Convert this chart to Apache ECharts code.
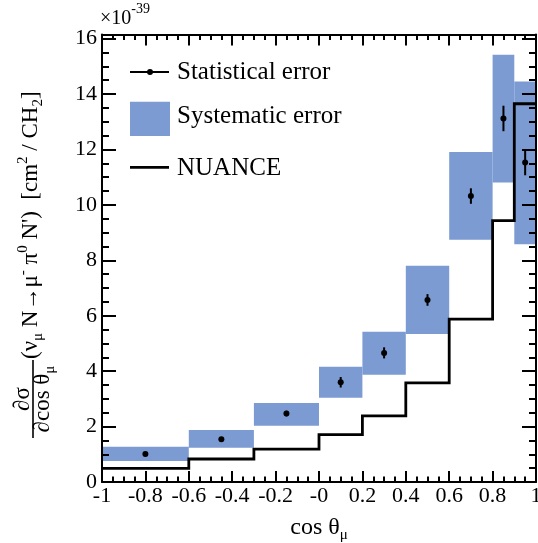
<!DOCTYPE html>
<html>
<head>
<meta charset="utf-8">
<script src="https://cdn.jsdelivr.net/npm/echarts@6/dist/echarts.min.js"></script>
<style>
  html, body { margin: 0; padding: 0; background: #ffffff; }
  #chart { width: 538px; height: 543px; }
</style>
</head>
<body>
<div id="chart"></div>
<script>
// Bin edges and centres in cos(theta_mu)
const binLow    = [-1, -0.6, -0.3, 0, 0.2, 0.4, 0.6, 0.8, 0.9];
const binHigh   = [-0.6, -0.3, 0, 0.2, 0.4, 0.6, 0.8, 0.9, 1];
const binCenter = [-0.8, -0.45, -0.15, 0.1, 0.3, 0.5, 0.7, 0.85, 0.95];

// Measured cross section (x 1e-39 cm^2 / CH2) with statistical errors
const measured = [1.01, 1.54, 2.47, 3.60, 4.66, 6.57, 10.32, 13.12, 11.53];
const statErr  = [0.06, 0.08, 0.10, 0.19, 0.20, 0.21, 0.28, 0.46, 0.46];

// Systematic error band limits
const sysLow  = [0.76, 1.24, 2.03, 3.04, 3.87, 5.34, 8.74, 10.81, 8.58];
const sysHigh = [1.27, 1.88, 2.85, 4.16, 5.42, 7.80, 11.91, 15.42, 14.45];

// NUANCE prediction per bin
const nuance = [0.49, 0.83, 1.19, 1.71, 2.39, 3.58, 5.88, 9.43, 13.65];

// Tick labels
const xTickLabels = ['-1', '-0.8', '-0.6', '-0.4', '-0.2', '-0', '0.2', '0.4', '0.6', '0.8', '1'];
const yTickLabels = ['0', '2', '4', '6', '8', '10', '12', '14', '16'];

const FONT = 'Liberation Serif';
const BAND = '#7b9bd2';

const bandData = binLow.map((lo, i) => [lo, binHigh[i], sysLow[i], sysHigh[i]]);
const pointData = binCenter.map((x, i) => [x, measured[i], statErr[i]]);
const nuanceData = binLow.map((lo, i) => [lo, nuance[i]]);
nuanceData.push([binHigh[binHigh.length - 1], nuance[nuance.length - 1]]);

// main text, superscript (p) and subscript (s) styles
function richStyles(size, small) {
  return {
    m: { fontFamily: FONT, fontSize: size, lineHeight: 30, color: '#000' },
    p: { fontFamily: FONT, fontSize: small, lineHeight: small, verticalAlign: 'top', color: '#000' },
    s: { fontFamily: FONT, fontSize: small, lineHeight: small, verticalAlign: 'bottom', color: '#000' }
  };
}
const yTitleRich = richStyles(23, 15);
const xTitleRich = richStyles(24, 15);

const tickLine = { color: '#000', width: 2 };

function xAxisDef(pos, showLabel) {
  return {
    type: 'value', position: pos, min: -1, max: 1, interval: 0.2, z: 10,
    axisLine: { show: true, onZero: false, lineStyle: tickLine },
    axisTick: { show: true, inside: true, length: 11, lineStyle: tickLine },
    minorTick: { show: true, splitNumber: 4, length: 5.5, lineStyle: tickLine },
    splitLine: { show: false },
    axisLabel: {
      show: showLabel, margin: 3, fontFamily: FONT, fontSize: 22, color: '#000',
      hideOverlap: false,
      formatter: v => xTickLabels[Math.round((v + 1) / 0.2)]
    }
  };
}

function yAxisDef(pos, step, len, showLine, showLabel) {
  return {
    type: 'value', position: pos, min: 0, max: 16.15, interval: step, z: 10,
    axisLine: { show: showLine, onZero: false, lineStyle: tickLine },
    axisTick: { show: true, inside: true, length: len, lineStyle: tickLine },
    splitLine: { show: false },
    axisLabel: {
      show: showLabel, margin: 5, fontFamily: FONT, fontSize: 22, color: '#000',
      formatter: v => {
        const k = Math.round(v / 2);
        return Math.abs(v - 2 * k) < 1e-6 ? yTickLabels[k] : '';
      }
    }
  };
}

const xBottom = xAxisDef('bottom', true);
xBottom.name = '{m|cos θ}{s|μ}';
xBottom.nameLocation = 'middle';
xBottom.nameGap = 31;
xBottom.nameTextStyle = { rich: xTitleRich };

const chart = echarts.init(document.getElementById('chart'), null, { renderer: 'canvas' });

chart.setOption({
  animation: false,
  backgroundColor: '#ffffff',
  grid: { left: 102, right: 2, top: 34.5, bottom: 61, containLabel: false, outerBoundsMode: 'none' },
  xAxis: [xBottom, xAxisDef('top', false)],
  yAxis: [
    yAxisDef('left', 2, 14, true, true),
    yAxisDef('left', 0.5, 7, false, false),
    yAxisDef('right', 2, 14, true, false),
    yAxisDef('right', 0.5, 7, false, false)
  ],
  series: [
    {
      name: 'Systematic error', type: 'custom', z: 1,
      data: bandData,
      encode: { x: [0, 1], y: [2, 3] },
      renderItem: (params, api) => {
        const a = api.coord([api.value(0), api.value(3)]);
        const b = api.coord([api.value(1), api.value(2)]);
        return {
          type: 'rect',
          shape: { x: a[0], y: a[1], width: b[0] - a[0], height: b[1] - a[1] },
          style: { fill: BAND }
        };
      }
    },
    {
      name: 'NUANCE', type: 'line', z: 2, step: 'end',
      data: nuanceData, showSymbol: false, symbol: 'none',
      lineStyle: { color: '#000', width: 2.8, join: 'miter' }
    },
    {
      name: 'Statistical error', type: 'custom', z: 3,
      data: pointData,
      encode: { x: 0, y: 1 },
      renderItem: (params, api) => {
        const x = api.value(0), y = api.value(1), e = api.value(2);
        const hi = api.coord([x, y + e]);
        const lo = api.coord([x, y - e]);
        const c = api.coord([x, y]);
        return {
          type: 'group',
          children: [
            { type: 'line', shape: { x1: hi[0], y1: hi[1], x2: lo[0], y2: lo[1] },
              style: { stroke: '#000', lineWidth: 2 } },
            { type: 'circle', shape: { cx: c[0], cy: c[1], r: 3 }, style: { fill: '#000' } }
          ]
        };
      }
    }
  ],
  graphic: [
    // exponent of the y scale
    {
      type: 'text', x: 100, y: 18.5,
      style: {
        text: '{m|×10}{p|-39}', verticalAlign: 'middle', align: 'left',
        rich: {
          m: { fontFamily: FONT, fontSize: 20, lineHeight: 32, color: '#000' },
          p: { fontFamily: FONT, fontSize: 14, lineHeight: 14, verticalAlign: 'top', color: '#000' }
        }
      }
    },
    // y axis title, written bottom-to-top
    {
      type: 'group', x: 33, y: 438, rotation: Math.PI / 2,
      children: [
        { type: 'line', shape: { x1: 0, y1: 0, x2: 78, y2: 0 }, style: { stroke: '#000', lineWidth: 1.6 } },
        { type: 'text', x: 39, y: -9.8,
          style: { text: '∂σ', fontFamily: FONT, fontSize: 23, fill: '#000', align: 'center', verticalAlign: 'middle' } },
        { type: 'text', x: 39, y: 10,
          style: { text: '{m|∂cos θ}{s|μ}', align: 'center', verticalAlign: 'middle', rich: yTitleRich } },
        { type: 'text', x: 79, y: -2,
          style: {
            text: "{m|(ν}{s|μ}{m| N→μ}{p|-}{m| π}{p|0}{m| N')  [cm}{p|2}{m| / CH}{s|2}{m|]}",
            align: 'left', verticalAlign: 'middle', rich: yTitleRich
          } }
      ]
    },
    // legend
    { type: 'line', shape: { x1: 130, y1: 72, x2: 169, y2: 72 }, style: { stroke: '#000', lineWidth: 2 } },
    { type: 'circle', shape: { cx: 150, cy: 72, r: 3 }, style: { fill: '#000' } },
    { type: 'text', x: 177, y: 72.3,
      style: { text: 'Statistical error', fontFamily: FONT, fontSize: 25, fill: '#000', verticalAlign: 'middle' } },
    { type: 'rect', shape: { x: 130, y: 101.7, width: 40, height: 34.3 }, style: { fill: BAND } },
    { type: 'text', x: 177, y: 116.6,
      style: { text: 'Systematic error', fontFamily: FONT, fontSize: 25, fill: '#000', verticalAlign: 'middle' } },
    { type: 'line', shape: { x1: 130, y1: 167.3, x2: 169, y2: 167.3 }, style: { stroke: '#000', lineWidth: 2.8 } },
    { type: 'text', x: 177, y: 168.3,
      style: { text: 'NUANCE', fontFamily: FONT, fontSize: 25, fill: '#000', verticalAlign: 'middle' } }
  ]
});
</script>
</body>
</html>
